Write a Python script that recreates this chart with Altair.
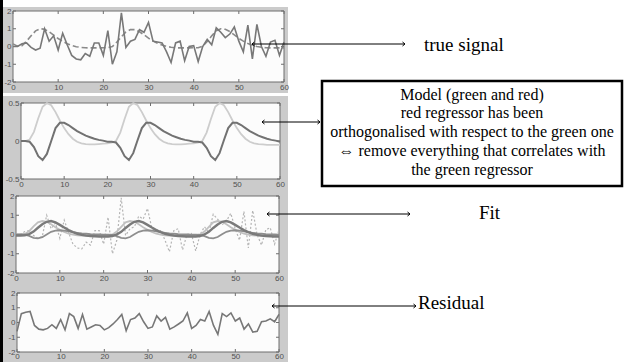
import altair as alt
import pandas as pd

# ---- data -------------------------------------------------------------
t = list(range(61))

# measured time course (noisy)
signal = [0.0, 0.0, 0.15, 0.2, -0.05, -0.2, -0.1, 1.0, 0.3, 0.6,
          -0.2, 0.75, 0.1, -0.5, -0.7, -0.75, -0.4, -0.55, 0.2, 0.2,
          -0.5, 0.9, -1.0, -0.3, 1.9, -0.05, 0.3, 0.4, 0.95, 0.8,
          1.35, 0.3, 0.25, 0.2, -0.3, -0.9, 0.2, 0.3, -0.8, 0.0,
          0.05, -0.85, 0.0, 0.4, 0.1, 1.05, 0.8, 0.5, 0.7, 1.1,
          0.3, -0.3, 1.2, -0.7, 1.25, 0.0, -0.55, 0.25, 0.35, -0.5, 0.25]

# underlying response (dashed)
model = [0.15, 0.02, 0.05, 0.3, 0.6, 0.88, 1.0, 0.97, 0.83, 0.64,
         0.45, 0.29, 0.16, 0.06, -0.01, -0.05, -0.07, -0.08, -0.08, -0.08,
         -0.07, -0.07, 0.0, 0.25, 0.55, 0.82, 0.95, 0.95, 0.83, 0.66,
         0.47, 0.31, 0.18, 0.08, 0.0, -0.04, -0.07, -0.08, -0.08, -0.08,
         -0.07, -0.07, 0.02, 0.28, 0.6, 0.88, 1.0, 0.97, 0.84, 0.65,
         0.46, 0.3, 0.17, 0.07, 0.0, -0.04, -0.07, -0.08, -0.08, -0.08, -0.08]

# regressors: canonical (green) and orthogonalised (red)
reg_green = [0, 0, 0.02, 0.12, 0.3, 0.45, 0.5, 0.47, 0.38, 0.27,
             0.17, 0.09, 0.03, -0.01, -0.03, -0.04, -0.045, -0.045, -0.04, -0.035,
             -0.03, -0.02, 0.0, 0.11, 0.29, 0.45, 0.5, 0.47, 0.38, 0.27,
             0.17, 0.09, 0.03, -0.01, -0.03, -0.04, -0.045, -0.045, -0.04, -0.035,
             -0.03, -0.02, 0.0, 0.11, 0.29, 0.45, 0.5, 0.47, 0.38, 0.27,
             0.17, 0.09, 0.03, -0.01, -0.03, -0.04, -0.045, -0.05, -0.05, -0.05, -0.05]
reg_red = [0, 0, -0.01, -0.08, -0.2, -0.25, -0.17, 0.0, 0.17, 0.24,
           0.24, 0.21, 0.17, 0.13, 0.1, 0.07, 0.05, 0.03, 0.015, 0.005,
           -0.01, -0.01, -0.02, -0.09, -0.2, -0.25, -0.16, 0.01, 0.17, 0.24,
           0.24, 0.21, 0.17, 0.13, 0.1, 0.07, 0.05, 0.03, 0.015, 0.005,
           -0.01, -0.01, -0.02, -0.09, -0.2, -0.25, -0.16, 0.01, 0.17, 0.24,
           0.24, 0.21, 0.17, 0.13, 0.1, 0.07, 0.05, 0.03, 0.015, 0.005, -0.01]

# fitted components and their sum
fit_green = [0, 0, 0.03, 0.17, 0.42, 0.63, 0.7, 0.66, 0.53, 0.38,
             0.24, 0.13, 0.04, -0.01, -0.04, -0.06, -0.06, -0.06, -0.05, -0.05,
             -0.04, -0.03, 0.0, 0.15, 0.4, 0.63, 0.7, 0.66, 0.53, 0.38,
             0.24, 0.13, 0.04, -0.01, -0.04, -0.06, -0.06, -0.06, -0.05, -0.05,
             -0.04, -0.03, 0.0, 0.15, 0.4, 0.63, 0.7, 0.66, 0.53, 0.38,
             0.24, 0.13, 0.04, -0.01, -0.04, -0.06, -0.06, -0.07, -0.07, -0.07, -0.07]
fit_red = [0, 0, -0.01, -0.07, -0.17, -0.2, -0.14, 0.0, 0.14, 0.2,
           0.22, 0.2, 0.16, 0.12, 0.09, 0.06, 0.04, 0.02, 0.01, 0.0,
           -0.01, -0.01, -0.02, -0.08, -0.17, -0.2, -0.13, 0.01, 0.14, 0.2,
           0.22, 0.2, 0.16, 0.12, 0.09, 0.06, 0.04, 0.02, 0.01, 0.0,
           -0.01, -0.01, -0.02, -0.08, -0.17, -0.2, -0.13, 0.01, 0.14, 0.2,
           0.22, 0.2, 0.16, 0.12, 0.09, 0.06, 0.04, 0.02, 0.01, 0.0, -0.01]
fit_total = [-0.05, -0.05, -0.04, 0.02, 0.15, 0.35, 0.53, 0.66, 0.7, 0.63,
             0.5, 0.36, 0.23, 0.12, 0.04, -0.02, -0.06, -0.08, -0.09, -0.1,
             -0.1, -0.1, -0.08, 0.0, 0.14, 0.34, 0.52, 0.66, 0.7, 0.63,
             0.5, 0.36, 0.23, 0.12, 0.04, -0.02, -0.06, -0.08, -0.09, -0.1,
             -0.1, -0.1, -0.08, 0.0, 0.14, 0.34, 0.52, 0.66, 0.7, 0.63,
             0.5, 0.36, 0.23, 0.12, 0.04, -0.02, -0.06, -0.08, -0.09, -0.1, -0.1]

residual = [-0.6, 0.6, 0.7, 0.75, -0.2, -0.45, -0.5, -0.4, -0.15, -0.4,
            0.2, -0.5, 0.6, 0.4, -0.4, 0.55, -0.45, -0.3, -0.15, -0.2,
            -0.5, -0.35, -0.1, 0.2, 0.55, -0.55, 0.2, 0.3, 0.6, 0.05,
            -0.4, -0.3, 0.45, 0.1, 0.35, -0.45, -0.3, -0.1, 0.1, 0.65,
            -0.4, -0.2, 0.2, 0.1, 0.75, -0.2, -0.8, 0.6, 0.4, 0.65,
            0.1, 0.3, -0.45, -0.1, -0.65, -0.6, 0.05, 0.1, 0.25, 0.05, 0.55]

x_ticks = [0, 10, 20, 30, 40, 50, 60]
y_ticks_wide = [-2, -1, 0, 1, 2]
y_ticks_narrow = [-0.5, 0, 0.5]

label_true = "true signal"
label_model = ["Model (green and red)",
               "red regressor has been",
               "orthogonalised with respect to the green one",
               "\u21d4 remove everything that correlates with",
               "the green regressor"]
label_fit = "Fit"
label_residual = "Residual"

# ---- styling helpers --------------------------------------------------
AXIS_FONT = "Liberation Sans"
NOTE_FONT = "Liberation Serif"
INK = "#6e6e6e"
PANEL_W = 271
one = pd.DataFrame({"k": [0]})


def make_panel(ydom, yticks, xr, yr, height, lines, under=(), over=(), xpad=1):
    xs = alt.Scale(domain=[0, 60], range=list(xr), nice=False, zero=False)
    ys = alt.Scale(domain=list(ydom), range=list(yr), nice=False, zero=False)
    common = dict(title=None, domain=False, ticks=False, grid=False, zindex=2,
                  labelFont=AXIS_FONT, labelFontSize=8, labelColor="#505050",
                  labelFlush=False, labelExpr="datum.value")
    xax = alt.Axis(values=x_ticks, labelPadding=xpad, offset=yr[0] - height, **common)
    yax = alt.Axis(values=list(yticks), labelPadding=2, offset=-xr[0], **common)

    def X(f="t"):
        return alt.X(f"{f}:Q", scale=xs, axis=xax)

    def Y(f="v"):
        return alt.Y(f"{f}:Q", scale=ys, axis=yax)

    frame = alt.Chart(pd.DataFrame({"x0": [0], "x1": [60],
                                    "y0": [ydom[0]], "y1": [ydom[1]]})).mark_rect(
        fill="#fcfcfc", stroke=INK, strokeWidth=1
    ).encode(x=X("x0"), x2="x1", y=Y("y0"), y2="y1")

    xt = alt.Chart(pd.DataFrame({"t": x_ticks}))
    yt = alt.Chart(pd.DataFrame({"v": list(yticks)}))
    ticks = [
        xt.mark_rule(color=INK).encode(x=X(), y=alt.value(yr[0]), y2=alt.value(yr[0] - 3)),
        xt.mark_rule(color=INK).encode(x=X(), y=alt.value(yr[1]), y2=alt.value(yr[1] + 3)),
        yt.mark_rule(color=INK).encode(y=Y(), x=alt.value(xr[0]), x2=alt.value(xr[0] + 3)),
        yt.mark_rule(color=INK).encode(y=Y(), x=alt.value(xr[1]), x2=alt.value(xr[1] - 3)),
    ]

    series = [
        alt.Chart(pd.DataFrame({"t": t, "v": vals})).mark_line(**style).encode(x=X(), y=Y())
        for vals, style in lines
    ]
    return alt.layer(*under, frame, *ticks, *series, *over).properties(
        width=PANEL_W, height=height)


def arrow(x0, x1, y):
    base = alt.Chart(one)
    head = dict(filled=False, color="black", strokeWidth=1, size=25, opacity=1)
    return [
        base.mark_rule(color="black", strokeWidth=1).encode(
            x=alt.value(x0), x2=alt.value(x1), y=alt.value(y)),
        base.mark_point(shape="M1,-0.8L0,0L1,0.8", **head).encode(
            x=alt.value(x0), y=alt.value(y)),
        base.mark_point(shape="M-1,-0.8L0,0L-1,0.8", **head).encode(
            x=alt.value(x1), y=alt.value(y)),
    ]


def note(text, x, y, size=19, align="left", baseline="middle", **kw):
    return alt.Chart(one).mark_text(
        font=NOTE_FONT, fontSize=size, align=align, baseline=baseline,
        color="black", **kw
    ).encode(x=alt.value(x), y=alt.value(y), text=alt.value(text))


def block(x0, x1, y0, y1, fill):
    return alt.Chart(one).mark_rect(fill=fill).encode(
        x=alt.value(x0), x2=alt.value(x1), y=alt.value(y0), y2=alt.value(y1))


# ---- panels -----------------------------------------------------------
backdrop = [
    block(-13, -10, -11, 351, "black"),
    block(-10, 275, -4, 82, "#cbcbcb"),
    block(-10, 275, 85, 351, "#cbcbcb"),
]

p1 = make_panel(
    (-2, 2), y_ticks_wide, (0, 271), (71, 0), 75,
    [(model, dict(color="#8a8a8a", strokeWidth=1.6, strokeDash=[6, 3])),
     (signal, dict(color="#787878", strokeWidth=1.6))],
    under=backdrop,
    over=arrow(239, 392, 33) + [note(label_true, 411, 34)],
)

p2 = make_panel(
    (-0.5, 0.5), y_ticks_narrow, (8, 267), (76, 0), 76,
    [(reg_green, dict(color="#cdcdcd", strokeWidth=1.8)),
     (reg_red, dict(color="#727272", strokeWidth=2))],
    over=arrow(249, 307, 19) + [
        alt.Chart(one).mark_rect(fill="white", stroke="black", strokeWidth=2.5).encode(
            x=alt.value(309), x2=alt.value(609), y=alt.value(-22), y2=alt.value(83)),
        note(label_model, 459, -16.5, size=16, align="center", baseline="top",
             lineHeight=18.75),
    ],
)

p3 = make_panel(
    (-2, 2), y_ticks_wide, (3, 266), (77, 0), 80,
    [(signal, dict(color="#b4b4b4", strokeWidth=1.2, strokeDash=[2, 2])),
     (fit_green, dict(color="#c0c0c0", strokeWidth=1.8)),
     (fit_red, dict(color="#8e8e8e", strokeWidth=1.8)),
     (fit_total, dict(color="#7a7a7a", strokeWidth=2.4))],
    over=arrow(254, 397, 18) + [note(label_fit, 466, 17)],
)

p4 = make_panel(
    (-2, 2), y_ticks_wide, (4, 266), (59, 0), 59,
    [(residual, dict(color="#777777", strokeWidth=1.6))],
    over=arrow(259, 403, 13) + [note(label_residual, 405, 10)],
    xpad=0,
)

chart = alt.vconcat(p1, p2, p3, p4, spacing=17, bounds="flush").properties(
    padding=0, background="white"
).configure_view(stroke=None)

chart.save("out.html", embed_options={"renderer": "svg", "actions": False})
